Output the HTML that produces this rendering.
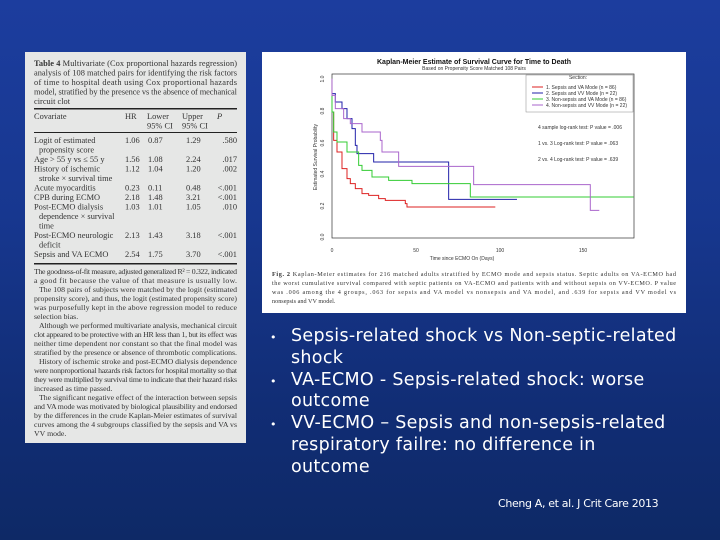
<!DOCTYPE html>
<html><head><meta charset="utf-8"><style>
*{margin:0;padding:0}
body{width:720px;height:540px;overflow:hidden;position:relative;background:linear-gradient(180deg,#1c3d9e 0%,#17378f 40%,#112d75 75%,#0e2966 100%);font-family:"Liberation Sans",sans-serif}
#tbl{position:absolute;left:25px;top:52px;width:221px;height:391px;background:#e6e7e6}
#ch{position:absolute;left:262px;top:52px;width:424px;height:261px;background:#fff}
.b{position:absolute;color:#fff;font-size:17.5px;line-height:21.8px;font-family:"DejaVu Sans","Liberation Sans",sans-serif;letter-spacing:0.3px;white-space:nowrap}
</style></head><body>
<div id="tbl"><svg width="221" height="391" font-family="Liberation Serif,serif" font-size="8.4" fill="#333">
<text x="9" y="14" textLength="203" lengthAdjust="spacing"><tspan font-weight="bold">Table 4</tspan>   Multivariate (Cox proportional hazards regression)</text>
<text x="9" y="23.5" textLength="203" lengthAdjust="spacing">analysis of 108 matched pairs for identifying the risk factors</text>
<text x="9" y="33" textLength="203" lengthAdjust="spacing">of time to hospital death using Cox proportional hazards</text>
<text x="9" y="42.5" textLength="203" lengthAdjust="spacing">model, stratified by the presence vs the absence of mechanical</text>
<text x="9" y="52">circuit clot</text>
<rect x="9" y="56" width="203" height="1.5" fill="#222"/>
<text x="9" y="67">Covariate</text><text x="100" y="67">HR</text><text x="122" y="67">Lower</text><text x="157" y="67">Upper</text><text x="192" y="67" font-style="italic">P</text>
<text x="122" y="76.5">95% CI</text><text x="157" y="76.5">95% CI</text>
<rect x="9" y="80" width="203" height="1" fill="#222"/>
<g>
<text x="9" y="91">Logit of estimated</text><text x="14" y="100.5">propensity score</text>
<text x="9" y="110">Age &gt; 55 y vs ≤ 55 y</text>
<text x="9" y="119.5">History of ischemic</text><text x="14" y="129">stroke × survival time</text>
<text x="9" y="138.5">Acute myocarditis</text>
<text x="9" y="148">CPB during ECMO</text>
<text x="9" y="157.5">Post-ECMO dialysis</text><text x="14" y="167">dependence × survival</text><text x="14" y="176.5">time</text>
<text x="9" y="186">Post-ECMO neurologic</text><text x="14" y="195.5">deficit</text>
<text x="9" y="205">Sepsis and VA ECMO</text>
</g>
<g><text x="100" y="91">1.06</text><text x="100" y="110">1.56</text><text x="100" y="119.5">1.12</text><text x="100" y="138.5">0.23</text><text x="100" y="148">2.18</text><text x="100" y="157.5">1.03</text><text x="100" y="186">2.13</text><text x="100" y="205">2.54</text></g>
<g><text x="123" y="91">0.87</text><text x="123" y="110">1.08</text><text x="123" y="119.5">1.04</text><text x="123" y="138.5">0.11</text><text x="123" y="148">1.48</text><text x="123" y="157.5">1.01</text><text x="123" y="186">1.43</text><text x="123" y="205">1.75</text></g>
<g><text x="161" y="91">1.29</text><text x="161" y="110">2.24</text><text x="161" y="119.5">1.20</text><text x="161" y="138.5">0.48</text><text x="161" y="148">3.21</text><text x="161" y="157.5">1.05</text><text x="161" y="186">3.18</text><text x="161" y="205">3.70</text></g>
<g text-anchor="end"><text x="212" y="91">.580</text><text x="212" y="110">.017</text><text x="212" y="119.5">.002</text><text x="212" y="138.5">&lt;.001</text><text x="212" y="148">&lt;.001</text><text x="212" y="157.5">.010</text><text x="212" y="186">&lt;.001</text><text x="212" y="205">&lt;.001</text></g>
<rect x="9" y="211" width="203" height="1.5" fill="#222"/>
<g font-size="7.8">
<text x="9" y="222" textLength="203" lengthAdjust="spacing">The goodness-of-fit measure, adjusted generalized R² = 0.322, indicated</text>
<text x="9" y="231" textLength="203" lengthAdjust="spacing">a good fit because the value of that measure is usually low.</text>
<text x="14" y="240" textLength="198" lengthAdjust="spacing">The 108 pairs of subjects were matched by the logit (estimated</text>
<text x="9" y="249" textLength="203" lengthAdjust="spacing">propensity score), and thus, the logit (estimated propensity score)</text>
<text x="9" y="258" textLength="203" lengthAdjust="spacing">was purposefully kept in the above regression model to reduce</text>
<text x="9" y="267">selection bias.</text>
<text x="14" y="276" textLength="198" lengthAdjust="spacing">Although we performed multivariate analysis, mechanical circuit</text>
<text x="9" y="285" textLength="203" lengthAdjust="spacing">clot appeared to be protective with an HR less than 1, but its effect was</text>
<text x="9" y="294" textLength="203" lengthAdjust="spacing">neither time dependent nor constant so that the final model was</text>
<text x="9" y="303" textLength="203" lengthAdjust="spacing">stratified by the presence or absence of thrombotic complications.</text>
<text x="14" y="312" textLength="198" lengthAdjust="spacing">History of ischemic stroke and post-ECMO dialysis dependence</text>
<text x="9" y="321" textLength="203" lengthAdjust="spacing">were nonproportional hazards risk factors for hospital mortality so that</text>
<text x="9" y="330" textLength="203" lengthAdjust="spacing">they were multiplied by survival time to indicate that their hazard risks</text>
<text x="9" y="339">increased as time passed.</text>
<text x="14" y="348" textLength="198" lengthAdjust="spacing">The significant negative effect of the interaction between sepsis</text>
<text x="9" y="357" textLength="203" lengthAdjust="spacing">and VA mode was motivated by biological plausibility and endorsed</text>
<text x="9" y="366" textLength="203" lengthAdjust="spacing">by the differences in the crude Kaplan-Meier estimates of survival</text>
<text x="9" y="375" textLength="203" lengthAdjust="spacing">curves among the 4 subgroups classified by the sepsis and VA vs</text>
<text x="9" y="384">VV mode.</text>
</g>
</svg></div>

<div id="ch"><svg width="424" height="261" font-family="Liberation Sans,sans-serif">
<text x="212" y="12" font-size="7" font-weight="bold" text-anchor="middle" fill="#111">Kaplan-Meier Estimate of Survival Curve for Time to Death</text>
<text x="212" y="18" font-size="5" text-anchor="middle" fill="#333">Based on Propensity Score Matched 108 Pairs</text>
<rect x="70" y="22" width="302" height="164" fill="none" stroke="#333" stroke-width="0.7"/>
<g font-size="5" fill="#333">
<text x="62" y="27" transform="rotate(-90 62 27)" text-anchor="middle">1.0</text>
<text x="62" y="59" transform="rotate(-90 62 59)" text-anchor="middle">0.8</text>
<text x="62" y="91" transform="rotate(-90 62 91)" text-anchor="middle">0.6</text>
<text x="62" y="122" transform="rotate(-90 62 122)" text-anchor="middle">0.4</text>
<text x="62" y="154" transform="rotate(-90 62 154)" text-anchor="middle">0.2</text>
<text x="62" y="185" transform="rotate(-90 62 185)" text-anchor="middle">0.0</text>
<text x="55" y="105" transform="rotate(-90 55 105)" text-anchor="middle">Estimated Survival Probability</text>
<text x="70" y="200" text-anchor="middle">0</text><text x="154" y="200" text-anchor="middle">50</text><text x="238" y="200" text-anchor="middle">100</text><text x="321" y="200" text-anchor="middle">150</text>
<text x="200" y="208" text-anchor="middle">Time since ECMO On (Days)</text>
<text x="316" y="27" text-anchor="middle">Section:</text>
<text x="284" y="37">1. Sepsis and VA Mode (n = 86)</text>
<text x="284" y="43">2. Sepsis and VV Mode (n = 22)</text>
<text x="284" y="49">3. Non-sepsis and VA Mode (n = 86)</text>
<text x="284" y="55">4. Non-sepsis and VV Mode (n = 22)</text>
<text x="276" y="77">4 sample log-rank test: P value = .006</text>
<text x="276" y="93">1 vs. 3 Log-rank test: P value = .063</text>
<text x="276" y="109">2 vs. 4 Log-rank test: P value = .639</text>
</g>
<rect x="264" y="23" width="107" height="37" fill="none" stroke="#888" stroke-width="0.5"/>
<g stroke-width="1">
<line x1="270" y1="35" x2="281" y2="35" stroke="#d22"/><line x1="270" y1="41" x2="281" y2="41" stroke="#22a"/><line x1="270" y1="47" x2="281" y2="47" stroke="#3c3"/><line x1="270" y1="53" x2="281" y2="53" stroke="#a6c"/>
</g>
<g fill="none" transform="scale(0.3333)">
<path stroke="#d22" stroke-width="3" d="M210 80V180H215V265H225V300H240V350H255V380H265V395H280V410H300V425H320V430H350V440H370V445H430V455H435V465H470H700"/>
<path stroke="#22a" stroke-width="3" d="M210 80V125H220V150H240V170H255V200H270V230H280V280H285V305H335V330H365H560V442H765" />
<path stroke="#3c3" stroke-width="3" d="M210 80V180H215V240H225V270H255V300H290V340H300V355H330V375H380V385H450V395H460H625V435H630H1115"/>
<path stroke="#a6c" stroke-width="3" d="M210 80V130H220V170H245V200H265V215H300V240H355V265H360V300H410V343H425H635V398H640H985V475H1012"/>
</g>
<g font-family="Liberation Serif,serif" font-size="6.2" fill="#333">
<text x="10" y="224" textLength="404" lengthAdjust="spacing"><tspan font-weight="bold">Fig. 2</tspan>   Kaplan-Meier estimates for 216 matched adults stratified by ECMO mode and sepsis status. Septic adults on VA-ECMO had</text>
<text x="10" y="233" textLength="404" lengthAdjust="spacing">the worst cumulative survival compared with septic patients on VA-ECMO and patients with and without sepsis on VV-ECMO. P value</text>
<text x="10" y="242" textLength="404" lengthAdjust="spacing">was .006 among the 4 groups, .063 for sepsis and VA model vs nonsepsis and VA model, and .639 for sepsis and VV model vs</text>
<text x="10" y="251">nonsepsis and VV model.</text>
</g>
</svg></div>

<div class="b" style="left:270px;top:327px;font-size:11px">•</div>
<div class="b" style="left:270px;top:371px;font-size:11px">•</div>
<div class="b" style="left:270px;top:414px;font-size:11px">•</div>
<div class="b" style="left:291px;top:326px">Sepsis-related shock vs Non-septic-related<br>shock<br>VA-ECMO - Sepsis-related shock: worse<br>outcome<br>VV-ECMO – Sepsis and non-sepsis-related<br>respiratory failre: no difference in<br>outcome</div>
<div style="position:absolute;left:498px;top:497px;color:#fff;font-size:11px;font-family:'DejaVu Sans',sans-serif;letter-spacing:-0.35px">Cheng A, et al. J Crit Care 2013</div>
</body></html>
